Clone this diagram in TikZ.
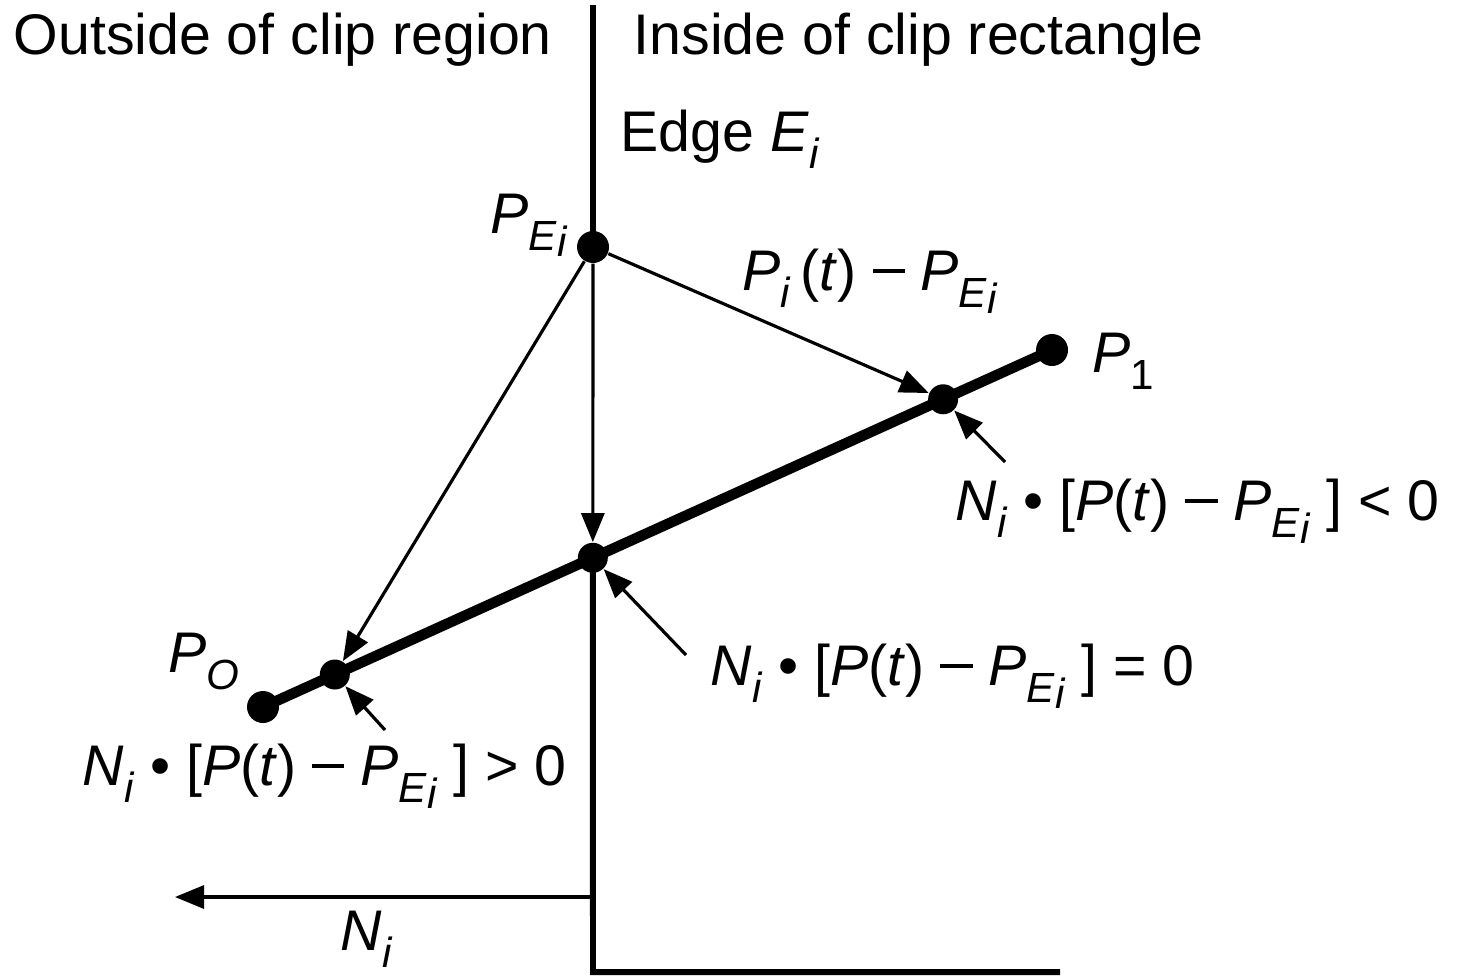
\documentclass[tikz,border=0pt]{standalone}
\usepackage{fontspec}
\setmainfont{Liberation Sans}
\usetikzlibrary{arrows.meta, calc}

\newcommand{\vr}[1]{\textit{#1}}
\newcommand{\lowr}[1]{\raisebox{-0.3em}{\fontsize{12}{12}\selectfont #1}}
\newcommand{\PEi}{\vr{P}\lowr{\vr{E}\raisebox{-0.15em}{\vr{i}}}}
\newcommand{\mns}{\rule[0.3em]{0.56em}{0.075em}}

\begin{document}
\begin{tikzpicture}[
    edge/.style={line width=1.7pt},
    seg/.style={line width=3pt},
    arr/.style={-{Triangle[length=2.9mm, width=2.3mm]}, line width=0.9pt},
    dot/.style={circle, fill, inner sep=0pt, minimum size=3.2mm},
    sdot/.style={dot, minimum size=3.0mm},
    lbl/.style={anchor=base west, inner sep=0pt,
                font=\fontsize{16.3}{19}\selectfont}
  ]
  \useasboundingbox (0,0) rectangle (14.62,-9.79);

  % end points and the edge
  \coordinate (etop)    at (5.93,-0.05);
  \coordinate (ecorner) at (5.93,-9.72);
  \coordinate (eend)    at (10.60,-9.72);
  \node[dot] (pe) at (5.93,-2.47) {};
  \node[dot] (p1) at (10.52,-3.50) {};
  \node[dot] (p0) at (2.63,-7.07) {};
  \node[sdot] (q1) at ($(p0)!0.862!(p1)$) {};
  \node[sdot] (qm) at ($(p0)!0.418!(p1)$) {};
  \node[sdot] (q0) at ($(p0)!0.091!(p1)$) {};

  \draw[edge] (etop) -- (pe.center);
  \draw[edge] (qm.center) -- (ecorner) -- (eend);
  \draw[seg] (p0.center) -- (p1.center);

  % vectors from P_Ei
  \draw[arr] (pe) -- (q1);
  \draw[arr] (pe) -- (qm);
  \draw[arr] (pe) -- (q0);

  % pointers to the three cases
  \coordinate (t1) at (10.05,-4.62);
  \coordinate (tm) at (6.86,-6.55);
  \coordinate (t0) at (3.85,-7.30);
  \draw[arr] (t1) -- (q1);
  \draw[arr] (tm) -- (qm);
  \draw[arr] (t0) -- (q0);

  % normal
  \coordinate (nbase) at (5.93,-8.97);
  \coordinate (ntip)  at (1.75,-8.97);
  \draw[arr] (nbase) -- (ntip);

  % labels
  \node[lbl] (outside) at (0.13,-0.55) {Outside of clip region};
  \node[lbl] (inside)  at (6.33,-0.55) {Inside of clip rectangle};
  \node[lbl] (edgelbl) at (6.20,-1.51) {Edge \vr{E}\lowr{\vr{i}}};
  \node[lbl] (pelbl)   at (4.90,-2.33) {\PEi};
  \node[lbl] (veclbl)  at (7.42,-2.90) {\vr{P}\lowr{\vr{i}}\,(\vr{t}) \mns{} \PEi};
  \node[lbl] (p1lbl)   at (10.92,-3.72) {\vr{P}\lowr{1}};
  \node[lbl] (p0lbl)   at (1.68,-6.72) {\vr{P}\lowr{\vr{O}}};
  \node[lbl] (lesslbl) at (9.55,-5.20)
        {\vr{N}\lowr{\vr{i}} • [\vr{P}(\vr{t}) \mns{} \PEi\ ] < 0};
  \node[lbl] (eqlbl)   at (7.10,-6.85)
        {\vr{N}\lowr{\vr{i}} • [\vr{P}(\vr{t}) \mns{} \PEi\ ] = 0};
  \node[lbl] (morelbl) at (0.82,-7.85)
        {\vr{N}\lowr{\vr{i}} • [\vr{P}(\vr{t}) \mns{} \PEi\ ] > 0};
  \node[lbl] (nlbl)    at (3.40,-9.50) {\vr{N}\lowr{\vr{i}}};
\end{tikzpicture}
\end{document}
